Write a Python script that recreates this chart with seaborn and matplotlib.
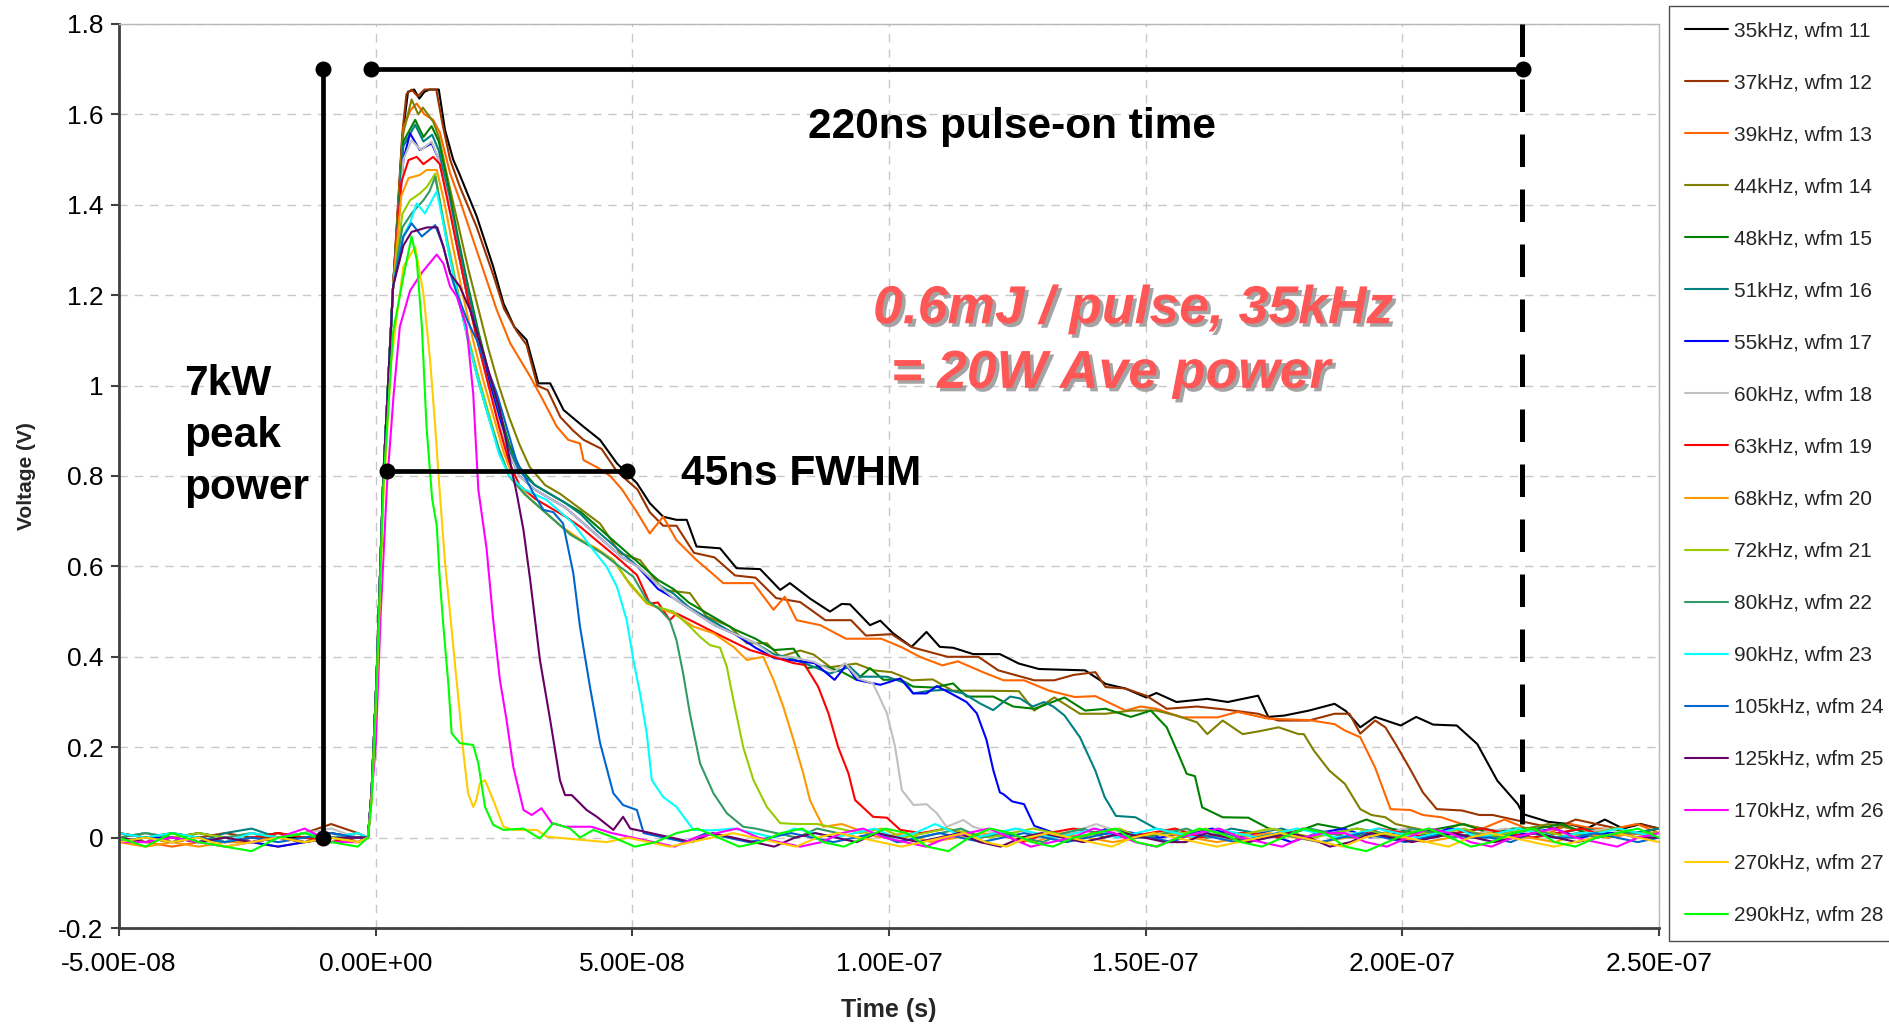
import numpy as np
import pandas as pd
import matplotlib
matplotlib.use("Agg")
import matplotlib.pyplot as plt
import seaborn as sns
from matplotlib.lines import Line2D
from matplotlib.ticker import FuncFormatter
import matplotlib.patheffects as pe

# ---------------- data (time in ns, voltage in V) ----------------
NAMES = ["35kHz, wfm 11", "37kHz, wfm 12", "39kHz, wfm 13", "44kHz, wfm 14",
         "48kHz, wfm 15", "51kHz, wfm 16", "55kHz, wfm 17", "60kHz, wfm 18",
         "63kHz, wfm 19", "68kHz, wfm 20", "72kHz, wfm 21", "80kHz, wfm 22",
         "90kHz, wfm 23", "105kHz, wfm 24", "125kHz, wfm 25", "170kHz, wfm 26",
         "270kHz, wfm 27", "290kHz, wfm 28"]
COLORS = ["#000000", "#993300", "#FF6600", "#808000", "#008000", "#008080",
          "#0000FF", "#C0C0C0", "#FF0000", "#FF9900", "#99CC00", "#339966",
          "#00FFFF", "#0066CC", "#660066", "#FF00FF", "#FFCC00", "#00FF00"]

T_35 = [-1.5, -0.8, 0.2, 1.5, 3.4, 5.2, 6.3, 7.5, 8.5, 9.5, 10.5, 12.3, 13.5, 15.1, 16.4, 19.7, 22.9, 24.9, 27.0, 29.4,
        31.7, 34.0, 36.6, 40.5, 43.7, 47.0, 50.9, 53.4, 56.0, 58.6, 60.6, 62.5, 67.1, 70.3, 74.9, 78.8, 80.7, 84.6,
        88.5, 90.8, 92.4, 96.3, 98.3, 100.8, 104.4, 107.3, 109.9, 112.5, 116.4, 121.6, 125.3, 129.2, 138.2, 142.2,
        146.0, 150.1, 152.1, 156.0, 162.0, 166.0, 171.9, 173.9, 177.0, 181.8, 186.8, 189.0, 191.8, 194.7, 199.7,
        202.7, 206.0, 210.6, 214.6, 218.5, 222.5, 223.5, 228.4]
V_35 = [0.0, 0.10, 0.36, 0.80, 1.22, 1.55, 1.65, 1.655, 1.635, 1.65, 1.655, 1.655, 1.566, 1.50, 1.466, 1.374, 1.263,
        1.182, 1.13, 1.101, 1.005, 1.005, 0.946, 0.909, 0.880, 0.828, 0.784, 0.74, 0.71, 0.703, 0.703, 0.644, 0.64,
        0.596, 0.594, 0.548, 0.563, 0.529, 0.50, 0.517, 0.516, 0.47, 0.48, 0.452, 0.422, 0.455, 0.422, 0.42, 0.406,
        0.406, 0.385, 0.373, 0.37, 0.34, 0.33, 0.31, 0.32, 0.30, 0.307, 0.30, 0.314, 0.267, 0.27, 0.281, 0.296, 0.28,
        0.244, 0.267, 0.248, 0.267, 0.25, 0.248, 0.207, 0.126, 0.074, 0.052, 0.035]
PRE_35 = [0, -1, 0, 1, 0, -1, 0, 0, 1, 0]
POST_35 = [3, 2, 4, 2, 3, 2]

T_37 = [-1.5, -0.8, 0.2, 1.5, 3.4, 5.2, 6.0, 7.0, 8.2, 9.5, 11.8, 13.0, 14.5, 16.4, 19.7, 22.9, 25.0, 27.5, 29.4, 31.5,
        33.5, 36.0, 38.5, 40.5, 44.0, 47.0, 51.0, 53.4, 56.0, 58.6, 62.0, 66.0, 70.0, 74.0, 78.0, 82.7, 87.6, 92.6,
        95.5, 100.5, 104.5, 111.4, 117.4, 121.3, 128.3, 132.2, 136.0, 140.2, 142.2, 146.0, 150.1, 154.1, 160.0,
        165.0, 171.9, 175.8, 181.8, 186.8, 189.7, 191.8, 194.7, 196.7, 198.7, 201.7, 204.0, 206.7, 211.6, 215.0, 217.6]
V_37 = [0.0, 0.10, 0.36, 0.80, 1.22, 1.56, 1.645, 1.655, 1.64, 1.655, 1.655, 1.58, 1.50, 1.44, 1.35, 1.245, 1.17,
        1.12, 1.09, 1.00, 0.99, 0.93, 0.90, 0.88, 0.86, 0.81, 0.77, 0.72, 0.69, 0.69, 0.63, 0.62, 0.58, 0.575, 0.53,
        0.521, 0.481, 0.481, 0.447, 0.45, 0.421, 0.40, 0.40, 0.37, 0.348, 0.348, 0.36, 0.366, 0.333, 0.33, 0.314,
        0.285, 0.29, 0.284, 0.274, 0.259, 0.259, 0.274, 0.274, 0.23, 0.259, 0.244, 0.207, 0.148, 0.10, 0.063, 0.06,
        0.05, 0.05]
PRE_37 = [1, 0, -1, 0, 1, 0, 0, 1, 3, 1]
POST_37 = [4, 3, 2, 4, 3, 2, 3, 2]

T_39 = [-1.5, -0.8, 0.2, 1.5, 3.4, 5.4, 6.8, 8.0, 9.5, 11.2, 12.5, 14.5, 16.4, 20.3, 23.6, 26.2, 30.1, 32.5, 35.3,
        37.5, 39.8, 40.5, 43.0, 45.7, 48.0, 50.9, 53.4, 56.0, 58.6, 62.5, 65.0, 67.7, 73.6, 77.5, 79.7, 82.0, 86.6,
        91.6, 98.5, 102.5, 106.0, 110.4, 113.4, 118.3, 122.3, 126.3, 131.2, 136.2, 140.2, 146.1, 149.0, 152.1, 157.0,
        164.0, 167.9, 173.9, 181.8, 186.8, 188.8, 191.8, 194.7, 197.7, 201.6, 204.0, 207.6, 211.6]
V_39 = [0.0, 0.10, 0.36, 0.80, 1.22, 1.57, 1.61, 1.624, 1.60, 1.588, 1.56, 1.47, 1.41, 1.278, 1.167, 1.094, 1.02,
        0.97, 0.909, 0.88, 0.872, 0.835, 0.82, 0.80, 0.77, 0.72, 0.673, 0.71, 0.658, 0.614, 0.59, 0.563, 0.563, 0.504,
        0.533, 0.481, 0.47, 0.44, 0.44, 0.421, 0.40, 0.381, 0.39, 0.366, 0.348, 0.348, 0.325, 0.311, 0.313, 0.281,
        0.29, 0.285, 0.266, 0.266, 0.278, 0.263, 0.26, 0.251, 0.237, 0.222, 0.155, 0.063, 0.061, 0.05, 0.045, 0.03]
PRE_39 = [0, -1, -2, -1, 0, -1, -2, -1, 0, -1]
POST_39 = [2, 4, 2, 1, 3, 2, 2, 3, 1]

T_44 = [-1.5, -0.8, 0.2, 1.5, 3.4, 5.4, 7.0, 8.3, 9.2, 11.2, 12.3, 14.0, 16.0, 18.0, 20.0, 22.0, 24.0, 26.0, 28.0,
        30.0, 33.0, 36.0, 39.8, 43.7, 47.6, 51.5, 56.0, 61.2, 64.5, 69.0, 72.3, 76.2, 78.8, 82.7, 85.3, 88.6, 93.6,
        97.0, 100.5, 104.5, 108.5, 112.4, 118.3, 125.3, 128.3, 132.2, 137.2, 142.2, 147.1, 152.1, 156.0, 160.0, 162.0,
        165.0, 168.9, 172.0, 175.9, 179.8, 180.8, 182.8, 185.8, 188.8, 191.8, 194.0, 196.7, 198.7]
V_44 = [0.0, 0.10, 0.36, 0.80, 1.22, 1.56, 1.633, 1.60, 1.615, 1.584, 1.55, 1.46, 1.36, 1.26, 1.17, 1.08, 1.00, 0.93,
        0.87, 0.82, 0.78, 0.76, 0.728, 0.695, 0.629, 0.614, 0.548, 0.541, 0.489, 0.467, 0.43, 0.43, 0.40, 0.414, 0.405,
        0.377, 0.385, 0.37, 0.366, 0.348, 0.35, 0.325, 0.325, 0.324, 0.281, 0.31, 0.274, 0.274, 0.281, 0.281, 0.27,
        0.255, 0.229, 0.259, 0.229, 0.235, 0.244, 0.229, 0.229, 0.192, 0.148, 0.119, 0.063, 0.05, 0.045, 0.03]
PRE_44 = [1, 0, 1, 0, -1, 0, 1, 0, 0, 1]
POST_44 = [2, 1, 3, 2, 1, 2, 3, 2, 1, 2, 1, 2]

T_48 = [-1.5, -0.8, 0.2, 1.5, 3.4, 5.4, 7.7, 9.3, 10.9, 12.3, 14.0, 16.0, 18.0, 20.0, 22.0, 24.0, 26.0, 28.0, 31.0,
        34.0, 37.0, 40.0, 43.0, 46.0, 49.0, 52.0, 55.0, 58.0, 61.0, 64.0, 67.0, 70.0, 74.0, 77.7, 81.4, 84.0, 87.2,
        90.8, 93.7, 96.3, 98.9, 102.2, 104.7, 108.6, 112.5, 115.1, 120.3, 124.2, 128.3, 134.2, 138.2, 142.2, 147.1,
        151.0, 154.1, 156.1, 158.0, 159.6, 161.0, 165.0, 170.0]
V_48 = [0.0, 0.10, 0.36, 0.80, 1.22, 1.54, 1.588, 1.55, 1.574, 1.54, 1.45, 1.33, 1.22, 1.12, 1.03, 0.95, 0.87, 0.82,
        0.78, 0.76, 0.74, 0.72, 0.69, 0.66, 0.63, 0.60, 0.57, 0.55, 0.52, 0.50, 0.48, 0.46, 0.44, 0.415, 0.418, 0.375,
        0.38, 0.367, 0.349, 0.375, 0.349, 0.35, 0.334, 0.332, 0.341, 0.312, 0.312, 0.29, 0.285, 0.31, 0.281, 0.285,
        0.267, 0.281, 0.244, 0.192, 0.141, 0.136, 0.067, 0.045, 0.044]
PRE_48 = [-1, 0, 1, 0, -1, 0, 1, 0, -1, 0]
POST_48 = [2, 1, 3, 2, 4, 2, 1, 2, 3, 1, 2, 2, 3, 1, 2, 1, 2]

T_51 = [-1.5, -0.8, 0.2, 1.5, 3.4, 5.4, 7.7, 9.3, 11.0, 12.3, 14.0, 16.0, 18.0, 20.0, 22.0, 24.0, 26.0, 28.0, 31.0,
        34.0, 37.0, 40.0, 43.0, 46.0, 49.0, 52.0, 55.0, 58.0, 61.0, 64.0, 67.0, 70.0, 74.0, 77.7, 80.1, 85.3, 88.5,
        92.4, 94.4, 99.6, 103.4, 104.7, 108.0, 111.2, 114.5, 117.7, 120.3, 123.6, 125.5, 128.0, 130.2, 132.0, 134.2,
        137.2, 140.2, 142.0, 144.2, 148.0]
V_51 = [0.0, 0.10, 0.36, 0.80, 1.22, 1.53, 1.577, 1.54, 1.555, 1.52, 1.43, 1.32, 1.21, 1.11, 1.02, 0.94, 0.86, 0.81,
        0.78, 0.76, 0.74, 0.715, 0.68, 0.65, 0.62, 0.59, 0.56, 0.54, 0.51, 0.49, 0.47, 0.45, 0.43, 0.405, 0.40, 0.378,
        0.363, 0.378, 0.356, 0.356, 0.341, 0.319, 0.325, 0.327, 0.319, 0.297, 0.282, 0.312, 0.308, 0.29, 0.30, 0.29,
        0.27, 0.222, 0.148, 0.09, 0.048, 0.045]
PRE_51 = [0, 1, 0, -1, 1, 2, 0, -1, 0, 0]
POST_51 = [2, 1, 0, 2, 1, 2, 0, 1, 2, 1, 2, 0, 1, 2, 1, 0, 1, 2, 1, 1, 2]

T_55 = [-1.5, -0.8, 0.2, 1.5, 3.4, 5.4, 6.7, 8.6, 10.9, 12.3, 14.0, 16.0, 18.0, 20.0, 22.0, 24.0, 26.0, 28.0, 31.0,
        34.0, 37.0, 40.0, 44.0, 48.0, 51.0, 55.0, 58.0, 62.0, 66.0, 70.0, 74.0, 77.7, 85.5, 89.4, 91.7, 93.7, 98.3,
        102.2, 104.7, 107.3, 109.3, 111.9, 115.1, 117.1, 119.0, 120.3, 121.6, 122.3, 124.0, 126.3, 128.3]
V_55 = [0.0, 0.10, 0.36, 0.80, 1.22, 1.50, 1.558, 1.521, 1.536, 1.50, 1.42, 1.30, 1.19, 1.10, 1.01, 0.93, 0.85, 0.80,
        0.77, 0.75, 0.73, 0.70, 0.66, 0.62, 0.60, 0.55, 0.53, 0.50, 0.47, 0.45, 0.42, 0.397, 0.386, 0.349, 0.382, 0.349,
        0.338, 0.352, 0.319, 0.319, 0.335, 0.32, 0.30, 0.275, 0.216, 0.15, 0.10, 0.096, 0.08, 0.074, 0.026]
PRE_55 = [-1, 0, 0, -1, 0, -1, -2, -1, 0, -1]
POST_55 = [1, 0, 2, 1, 0, 1, 2, 0, 1, -1, 1, 2, 0, 1, 0, 2, 1, 0, 1, 2, 0, 1, 1, 0]

T_60 = [-1.5, -0.8, 0.2, 1.5, 3.4, 5.4, 7.0, 8.8, 10.9, 12.3, 14.0, 16.0, 18.0, 20.0, 22.0, 24.0, 26.0, 28.0, 31.0,
        34.0, 37.0, 40.0, 44.0, 48.0, 51.0, 55.0, 58.0, 62.0, 66.0, 70.0, 74.0, 77.7, 81.0, 85.3, 89.4, 91.4, 94.0,
        96.9, 99.6, 101.2, 102.5, 104.8, 107.3, 109.3, 111.2, 114.5, 116.4]
V_60 = [0.0, 0.10, 0.36, 0.80, 1.22, 1.50, 1.543, 1.521, 1.54, 1.50, 1.42, 1.30, 1.19, 1.09, 1.00, 0.92, 0.85, 0.80,
        0.77, 0.75, 0.73, 0.70, 0.66, 0.62, 0.60, 0.56, 0.53, 0.50, 0.47, 0.45, 0.43, 0.40, 0.40, 0.389, 0.367, 0.386,
        0.352, 0.341, 0.275, 0.20, 0.105, 0.072, 0.074, 0.054, 0.024, 0.039, 0.024]
PRE_60 = [0, 1, 0, -1, 0, 1, 0, 1, 2, 0]
POST_60 = [1, 2, 0, 1, 3, 1, 0, 2, 1, 0, 1, 2, 0, 1, 1, 0, 2, 1, 0, 1, 2, 1, 0, 1, 2, 0, 1]

T_63 = [-1.5, -0.8, 0.2, 1.5, 3.4, 5.0, 6.4, 8.0, 9.3, 11.2, 12.5, 14.0, 16.0, 18.0, 20.0, 22.0, 24.0, 26.0, 28.0,
        31.0, 34.0, 37.0, 39.8, 43.7, 47.0, 50.9, 53.4, 55.0, 57.3, 58.6, 62.5, 67.7, 72.9, 77.4, 81.4, 83.6, 86.2,
        88.2, 90.1, 92.1, 93.4, 96.9, 99.6, 102.2]
V_63 = [0.0, 0.10, 0.36, 0.80, 1.22, 1.45, 1.499, 1.506, 1.49, 1.506, 1.49, 1.41, 1.30, 1.19, 1.09, 1.00, 0.91, 0.83,
        0.78, 0.75, 0.73, 0.71, 0.688, 0.651, 0.62, 0.581, 0.518, 0.52, 0.481, 0.496, 0.474, 0.444, 0.415, 0.40, 0.386,
        0.382, 0.334, 0.275, 0.20, 0.142, 0.083, 0.046, 0.044, 0.017]
PRE_63 = [1, 0, -1, 0, -1, 0, 1, 0, -1, 0]
POST_63 = [1, 2, 0, 1, -1, 1, 2, 1, 0, 1, 2, 0, 1, 1, 0, 2, 1, 0, 2, 1, 0, 1, 2, 1, 0, 1, 2, 0, 1, 1]

T_68 = [-1.5, -0.8, 0.2, 1.5, 3.4, 5.0, 6.4, 8.6, 9.9, 11.9, 13.3, 15.0, 17.0, 19.0, 21.0, 23.0, 25.0, 27.0, 30.0,
        33.0, 36.0, 39.8, 43.0, 46.3, 49.5, 52.8, 58.0, 61.9, 65.8, 69.7, 72.3, 75.5, 77.5, 79.4, 81.4, 83.3, 84.6,
        86.0, 87.2, 90.8, 94.0]
V_68 = [0.0, 0.10, 0.36, 0.80, 1.22, 1.42, 1.459, 1.466, 1.477, 1.477, 1.41, 1.31, 1.20, 1.10, 1.01, 0.93, 0.85, 0.79,
        0.75, 0.72, 0.69, 0.66, 0.64, 0.614, 0.56, 0.518, 0.496, 0.467, 0.452, 0.422, 0.393, 0.40, 0.349, 0.29, 0.216,
        0.142, 0.083, 0.05, 0.024, 0.03, 0.017]
PRE_68 = [-1, -2, -1, -2, -1, -1, 0, -1, 0, -1]
POST_68 = [0, 1, -1, 0, 1, 0, -1, 1, 0, -1, 0, 1, 0, -1, 0, 1, 0, -1, 0, 1, 0, -1, 0, 1, 0, 0, -1, 1, 0, 1, 0]

T_72 = [-1.5, -0.8, 0.2, 1.5, 3.4, 5.2, 6.7, 8.6, 10.0, 11.6, 12.5, 14.0, 16.0, 18.0, 20.0, 22.0, 24.0, 26.0, 29.0,
        32.0, 35.0, 38.0, 41.0, 44.0, 46.3, 49.0, 52.8, 55.0, 58.0, 61.2, 63.2, 65.1, 67.1, 68.4, 69.7, 71.6, 73.6,
        76.2, 78.8, 82.0]
V_72 = [0.0, 0.10, 0.36, 0.80, 1.22, 1.38, 1.41, 1.425, 1.44, 1.469, 1.41, 1.32, 1.21, 1.11, 1.02, 0.94, 0.86, 0.80,
        0.76, 0.73, 0.70, 0.67, 0.65, 0.63, 0.614, 0.57, 0.52, 0.51, 0.50, 0.467, 0.444, 0.426, 0.42, 0.378, 0.304,
        0.20, 0.127, 0.068, 0.032, 0.03]
PRE_72 = [0, -1, 0, 1, 0, -1, 0, 1, 0, -1]
POST_72 = [3, 2, 1, 2, 0, 1, 2, 1, 0, 1, 2, 1, 0, 1, 2, 0, 1, 1, 2, 0, 1, 2, 1, 0, 1, 2, 1, 0, 1, 1, 2, 0, 1, 2, 1,
           0, 1, 2, 1, 1]

T_80 = [-1.5, -0.8, 0.2, 1.5, 3.4, 5.2, 7.0, 9.3, 10.5, 11.6, 12.6, 14.0, 16.0, 18.0, 20.0, 22.0, 24.0, 26.0, 29.0,
        32.0, 35.0, 38.0, 41.0, 44.0, 46.3, 50.2, 52.8, 55.4, 57.3, 58.6, 59.9, 61.2, 63.2, 65.8, 68.4, 71.6, 74.0]
V_80 = [0.0, 0.10, 0.36, 0.80, 1.22, 1.35, 1.381, 1.41, 1.43, 1.462, 1.40, 1.31, 1.20, 1.10, 1.01, 0.93, 0.86, 0.80,
        0.76, 0.73, 0.70, 0.67, 0.65, 0.63, 0.61, 0.577, 0.526, 0.504, 0.481, 0.437, 0.363, 0.275, 0.164, 0.098, 0.054,
        0.024, 0.02]
PRE_80 = [0, 1, 0, -1, 0, 1, 0, -1, 0, 0]
POST_80 = [1, 0, 2, 1, 0, 1, -1, 0, 1, 2, 0, 1, 0, -1, 1, 2, 0, 1, 0, 1, 2, 0, 1, -1, 0, 1, 2, 1, 0, 1, 0, 2, 1, 0,
           1, 0, 1, 2, 0, 1, 0, 1, 1, 0]

T_90 = [-1.5, -0.8, 0.2, 1.5, 3.4, 5.4, 6.7, 8.0, 9.6, 11.9, 13.0, 14.5, 16.0, 18.0, 20.0, 22.0, 24.0, 26.0, 29.0,
        33.3, 36.0, 38.5, 42.4, 45.0, 47.0, 48.9, 50.2, 51.5, 52.8, 53.8, 56.0, 58.6, 61.9, 65.8]
V_90 = [0.0, 0.10, 0.36, 0.80, 1.22, 1.33, 1.36, 1.403, 1.381, 1.43, 1.37, 1.28, 1.20, 1.10, 1.01, 0.93, 0.85, 0.80,
        0.77, 0.747, 0.72, 0.695, 0.636, 0.599, 0.555, 0.481, 0.393, 0.319, 0.231, 0.127, 0.09, 0.068, 0.017, 0.016]
PRE_90 = [1, 0, 1, 0, -1, 1, 0, 1, 0, 1]
POST_90 = [2, 1, 0, 2, 1, 0, 1, 2, 0, 1, 3, 1, 0, 1, 2, 1, 0, 1, 2, 0, 1, 2, 1, 0, 2, 1, 0, 1, 2, 1, 0, 1, 2, 1, 0,
           1, 2, 0, 1, 2, 1, 0, 1, 1, 2, 1, 0]

T_105 = [-1.5, -0.8, 0.2, 1.5, 3.4, 5.4, 7.0, 9.0, 11.6, 13.2, 14.5, 15.8, 18.0, 19.7, 21.0, 23.6, 25.5, 27.5, 29.4,
         30.7, 32.7, 34.6, 36.5, 38.5, 39.8, 41.8, 43.7, 46.3, 48.2, 50.9, 52.2]
V_105 = [0.0, 0.10, 0.36, 0.80, 1.22, 1.33, 1.359, 1.33, 1.355, 1.307, 1.25, 1.204, 1.14, 1.101, 1.06, 0.983, 0.909,
         0.83, 0.791, 0.762, 0.725, 0.72, 0.695, 0.585, 0.467, 0.33, 0.21, 0.098, 0.072, 0.061, 0.01]
PRE_105 = [-1, 0, -1, 0, -1, 0, -1, 0, 1, 0]
POST_105 = [0, -1, 1, 0, -1, 0, 1, 0, -1, 0, 1, -1, 0, 1, 0, -1, 0, 1, 0, -1, 0, 1, 0, 0, -1, 1, 0, -1, 0, 1, 0, -1,
            0, 1, 0, -1, 0, 1, 0, 0, -1, 1, 0, 0, 1, 0, -1, 0]

T_125 = [-1.5, -0.8, 0.2, 1.5, 3.4, 5.4, 7.0, 8.5, 10.0, 12.0, 13.2, 14.5, 16.4, 18.4, 21.0, 24.2, 26.8, 27.5, 28.8,
         30.1, 32.0, 34.0, 35.9, 36.9, 38.2, 41.1, 43.1, 46.3, 48.2, 49.6]
V_125 = [0.0, 0.10, 0.36, 0.80, 1.22, 1.31, 1.34, 1.345, 1.35, 1.35, 1.307, 1.248, 1.219, 1.167, 1.071, 0.946, 0.798,
         0.76, 0.68, 0.57, 0.393, 0.26, 0.127, 0.094, 0.094, 0.061, 0.046, 0.017, 0.046, 0.02]
PRE_125 = [0, -1, 0, -1, 0, -1, 0, -1, 0, 0]
POST_125 = [1, 0, -1, 1, 0, -1, -2, 0, 1, 0, -1, 1, 0, -1, 0, 1, -1, -2, 0, 1, 0, -1, 0, 1, 0, -1, -1, 1, 0, -1, 0,
            1, 0, -2, -1, 1, 0, -1, 0, 1, 0, -1, 0, 1, 0, -1, 0, 1, 0, 0]

T_170 = [-1.5, 0.0, 1.0, 2.2, 3.5, 4.7, 6.7, 9.0, 11.9, 13.2, 14.5, 15.8, 17.7, 19.0, 20.0, 21.6, 22.9, 24.2, 25.5,
         26.8, 28.8, 30.4, 32.3, 34.3, 36.9, 42.0]
V_170 = [0.0, 0.20, 0.50, 0.78, 0.98, 1.13, 1.21, 1.25, 1.29, 1.27, 1.219, 1.197, 1.13, 0.983, 0.77, 0.64, 0.481,
         0.349, 0.26, 0.157, 0.061, 0.05, 0.065, 0.032, 0.024, 0.024]
PRE_170 = [-1, -1, 0, -1, -2, -1, 0, 2, -1, -1]
POST_170 = [1, 0, -1, -2, 0, 1, 2, 0, -1, -2, -1, 1, 2, 0, -1, -2, 0, 1, 2, 0, -2, -1, 0, 2, 1, -1, -2, 0, 1, 2, 0,
            -1, -2, 0, 1, 1, -1, -2, 0, 2, 1, -1, -2, 0, 1, 2, 0, -1, -2, 0, 1]

T_270 = [-1.5, -0.8, 0.2, 1.5, 3.0, 4.7, 5.4, 7.7, 9.3, 10.6, 11.6, 12.5, 13.5, 14.5, 15.5, 16.4, 17.1, 18.0, 19.0,
         19.6, 20.3, 21.3, 22.9, 24.9, 26.8, 31.4, 33.3, 41.0]
V_270 = [0.0, 0.08, 0.33, 0.75, 1.05, 1.204, 1.263, 1.307, 1.204, 1.057, 0.909, 0.762, 0.61, 0.496, 0.378, 0.275,
         0.187, 0.098, 0.068, 0.083, 0.12, 0.127, 0.083, 0.024, 0.017, 0.017, 0.002, -0.006]
PRE_270 = [-1, 0, -1, 0, -2, -1, 0, -1, 0, -1]
POST_270 = [-1, 0, -1, -2, -1, 0, 1, 0, -1, -2, 0, 1, 0, -1, -2, -1, 0, 1, -1, -2, 0, 1, 0, -1, -2, 0, 1, 0, -1, -2,
            -1, 0, 1, 0, -1, -2, 0, 1, 0, -1, -2, 0, 1, 0, -1, -2, -1, 0, 1, 0, -1]

T_290 = [-1.5, -0.8, 0.2, 1.5, 3.4, 5.4, 7.0, 8.0, 9.0, 9.9, 11.0, 11.9, 12.5, 13.2, 14.2, 14.8, 16.4, 19.0, 20.0,
         21.3, 22.9, 24.9, 28.8, 32.0, 34.6, 37.9, 39.8, 42.4]
V_290 = [0.0, 0.08, 0.35, 0.78, 1.12, 1.241, 1.33, 1.278, 1.13, 0.91, 0.75, 0.69, 0.57, 0.467, 0.334, 0.231, 0.209,
         0.205, 0.164, 0.068, 0.028, 0.017, 0.02, -0.002, 0.032, 0.02, 0.0, 0.017]
PRE_290 = [0, -2, 1, -1, -2, -3, 0, 1, -1, -2]
POST_290 = [0, -2, -1, 1, 2, 0, -2, -1, 1, 2, -1, -2, 0, 2, 1, -2, -3, 0, 2, 1, -1, -2, 0, 1, 2, -1, -2, 0, 2, 1,
            -1, -2, 0, 2, 1, -2, -3, -1, 1, 2, 0, -2, -1, 1, 2, -1, -2, 0, 1, 2, 0]

X_TICKS = [-5e-8, 0.0, 5e-8, 1e-7, 1.5e-7, 2e-7, 2.5e-7]
Y_TICKS = [-0.2, 0.0, 0.2, 0.4, 0.6, 0.8, 1.0, 1.2, 1.4, 1.6, 1.8]

# annotation geometry (data units: ns, V)
PEAK_T, PEAK_V0, PEAK_V1 = -10.3, 0.0, 1.70
ON_T0, ON_T1, ON_V = -0.9, 223.5, 1.70
DASH_T, DASH_V0, DASH_V1 = 223.3, 0.03, 1.80
FWHM_T0, FWHM_T1, FWHM_V = 2.3, 49.0, 0.811

# ---------------- assemble long table ----------------
SERIES = [
    (T_35, V_35, PRE_35, POST_35), (T_37, V_37, PRE_37, POST_37), (T_39, V_39, PRE_39, POST_39),
    (T_44, V_44, PRE_44, POST_44), (T_48, V_48, PRE_48, POST_48), (T_51, V_51, PRE_51, POST_51),
    (T_55, V_55, PRE_55, POST_55), (T_60, V_60, PRE_60, POST_60), (T_63, V_63, PRE_63, POST_63),
    (T_68, V_68, PRE_68, POST_68), (T_72, V_72, PRE_72, POST_72), (T_80, V_80, PRE_80, POST_80),
    (T_90, V_90, PRE_90, POST_90), (T_105, V_105, PRE_105, POST_105), (T_125, V_125, PRE_125, POST_125),
    (T_170, V_170, PRE_170, POST_170), (T_270, V_270, PRE_270, POST_270), (T_290, V_290, PRE_290, POST_290),
]
frames = []
for name, (T, V, PRE, POST) in zip(NAMES, SERIES):
    pre_t = np.linspace(-50.0, -3.5, len(PRE))
    post_t = np.linspace(T[-1] + 4.0, 250.0, len(POST))
    t = np.concatenate([pre_t, np.array(T, float), post_t])
    v = np.concatenate([np.array(PRE) * 0.01, np.array(V, float), np.array(POST) * 0.01])
    frames.append(pd.DataFrame({"t": t * 1e-9, "v": v, "series": name}))
df = pd.concat(frames, ignore_index=True)

# ---------------- figure ----------------
sns.set_theme(style="ticks")
plt.rcParams["font.family"] = ["Liberation Sans", "DejaVu Sans"]

W, H = 1889, 1026
fig = plt.figure(figsize=(W / 100, H / 100), dpi=100)
ax = fig.add_axes([119 / W, 1 - 928 / H, 1540 / W, 904 / H])

sns.lineplot(data=df, x="t", y="v", hue="series", hue_order=NAMES, palette=COLORS,
             estimator=None, sort=False, units="series", linewidth=1.5, legend=False, ax=ax)

ns = 1e-9
ax.plot([PEAK_T * ns, PEAK_T * ns], [PEAK_V0, PEAK_V1], color="black", lw=3.4, marker="o", ms=10.5,
        solid_capstyle="butt", zorder=5)
ax.plot([ON_T0 * ns, ON_T1 * ns], [ON_V, ON_V], color="black", lw=3.4, marker="o", ms=10.5, zorder=5)
ax.plot([DASH_T * ns, DASH_T * ns], [DASH_V1, DASH_V0], color="black", lw=3.6, dashes=(6.5, 4.5),
        solid_capstyle="butt", dash_capstyle="butt", zorder=5, clip_on=False)
ax.plot([FWHM_T0 * ns, FWHM_T1 * ns], [FWHM_V, FWHM_V], color="black", lw=3.4, marker="o", ms=10.5, zorder=5)

bold = dict(fontsize=30.5, fontweight="bold", color="black", zorder=6)
ax.text(123.9 * ns, 1.548, "220ns pulse-on time", ha="center", va="baseline", **bold)
ax.text(59.5 * ns, 0.780, "45ns FWHM", ha="left", va="baseline", **bold)
ax.text(-37.3 * ns, 0.979, "7kW", ha="left", va="baseline", **bold)
ax.text(-37.3 * ns, 0.864, "peak", ha="left", va="baseline", **bold)
ax.text(-37.3 * ns, 0.749, "power", ha="left", va="baseline", **bold)

shadow = [pe.SimplePatchShadow(offset=(2.5, -2.5), shadow_rgbFace="#9a9a9a", alpha=0.9), pe.Normal()]
red = dict(fontsize=38.5, fontweight="bold", fontstyle="italic", color="#FF5656", zorder=6, path_effects=shadow)
ax.text(96.9 * ns, 1.138, "0.6mJ / pulse, 35kHz", ha="left", va="baseline", **red)
ax.text(100.4 * ns, 0.995, "= 20W Ave power", ha="left", va="baseline", **red)

# axes styling
ax.set_xlim(-5e-8, 2.5e-7)
ax.set_ylim(-0.2, 1.8)
ax.set_xticks(X_TICKS)
ax.set_yticks(Y_TICKS)
ax.xaxis.set_major_formatter(FuncFormatter(lambda x, p: f"{x:.2E}"))
ax.yaxis.set_major_formatter(FuncFormatter(lambda y, p: f"{round(y, 1):g}"))
ax.grid(True, color="#C8C8C8", linestyle=(0, (6, 5)), linewidth=1.0)
ax.set_axisbelow(True)
for s in ["left", "bottom"]:
    ax.spines[s].set_color("#404040")
    ax.spines[s].set_linewidth(2.0)
for s in ["top", "right"]:
    ax.spines[s].set_color("#B8B8B8")
    ax.spines[s].set_linewidth(1.0)
ax.tick_params(axis="both", which="major", direction="out", length=6, width=1.5, color="#404040",
               labelsize=19, labelcolor="black", bottom=True, left=True, top=False, right=False)
ax.tick_params(axis="x", pad=11)
ax.tick_params(axis="y", pad=5)

ax.set_xlabel("Time (s)", fontsize=18, fontweight="bold")
ax.set_ylabel("Voltage (V)", fontsize=15, fontweight="bold")
ax.xaxis.set_label_coords(0.5, (928 - 1010) / 904)
ax.xaxis.label.set_va("center")
ax.yaxis.set_label_coords((26.5 - 119) / 1540, 0.5)
ax.yaxis.label.set_va("center")

handles = [Line2D([0], [0], color=c, lw=1.5) for c in COLORS]
leg = fig.legend(handles, NAMES, loc="upper left", bbox_to_anchor=(1669 / W, 1 - 6 / H),
                 fontsize=15, frameon=True, fancybox=False, edgecolor="#222222",
                 handlelength=2.1, handletextpad=0.25, borderpad=0.75, labelspacing=1.585,
                 borderaxespad=0.0)
leg.get_frame().set_linewidth(1.0)

fig.savefig("out.png", dpi=100, facecolor="white")
